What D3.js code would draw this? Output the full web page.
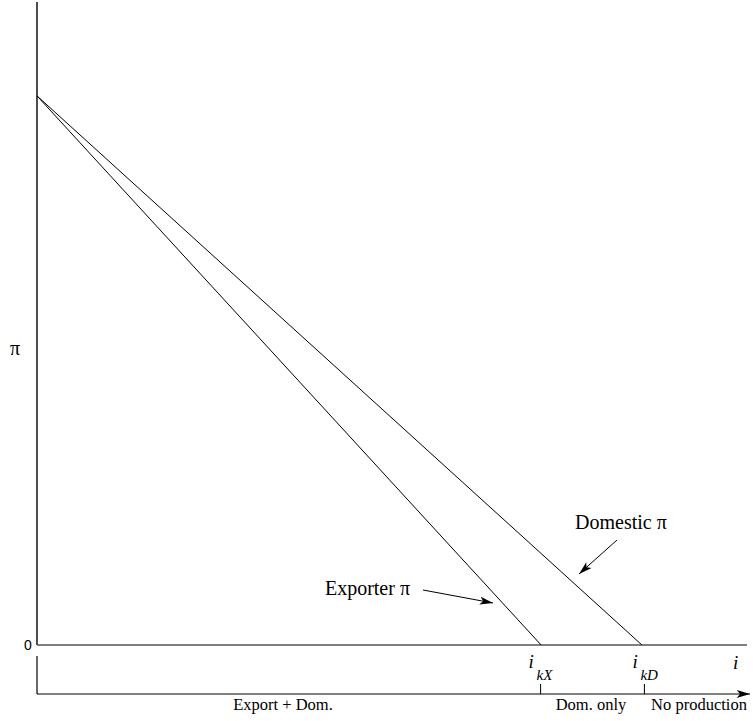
<!DOCTYPE html>
<html lang="en">
<head>
<meta charset="UTF-8">
<title>Exporter vs domestic profit</title>
<script src="https://cdnjs.cloudflare.com/ajax/libs/d3/7.8.5/d3.min.js"></script>
<style>
    body { margin: 0; background: #fff; }
    text { font-family: "Liberation Serif", "Times New Roman", serif; fill: #000; }
</style>
</head>
<body>
<div id="chart"></div>
<script>
    // profit lines: intercept at i = 0, zero at the cutoff
    const seriesNames = ["Exporter", "Domestic"];
    const interceptPi = [85.4, 85.4];
    const cutoffI = [71, 85.2];
    const cutoffLabels = ["kX", "kD"];
    const regionLabels = ["Export + Dom.", "Dom. only", "No production"];

    const width = 753, height = 721;
    const svg = d3.select("#chart").append("svg")
        .attr("width", width).attr("height", height);

    const x = d3.scaleLinear().domain([0, 100]).range([37, 747]);
    const y = d3.scaleLinear().domain([0, 100]).range([645, 2]);

    svg.append("defs").append("marker")
        .attr("id", "head")
        .attr("viewBox", "0 0 10 6")
        .attr("refX", 10).attr("refY", 3)
        .attr("markerWidth", 14).attr("markerHeight", 8)
        .attr("markerUnits", "userSpaceOnUse")
        .attr("orient", "auto")
        .append("path").attr("d", "M0,0 L10,3 L0,6 L2.5,3 Z").attr("fill", "#000");

    // axes
    svg.append("line")
        .attr("x1", x(0)).attr("x2", x(0)).attr("y1", y(100)).attr("y2", y(0))
        .attr("stroke", "#000").attr("stroke-width", 1.4);
    svg.append("line")
        .attr("x1", x(0)).attr("x2", x(100)).attr("y1", y(0)).attr("y2", y(0))
        .attr("stroke", "#555").attr("stroke-width", 1.4);

    svg.append("text").attr("x", 28).attr("y", y(0) + 5)
        .attr("text-anchor", "middle")
        .style("font-family", "'Liberation Sans', Arial, sans-serif")
        .style("font-size", "14px").text("0");
    svg.append("text").attr("x", 15).attr("y", 355)
        .attr("text-anchor", "middle").style("font-size", "20px").text("π");

    // profit lines
    seriesNames.forEach((n, k) => {
        svg.append("line")
            .attr("x1", x(0)).attr("y1", y(interceptPi[k]))
            .attr("x2", x(cutoffI[k])).attr("y2", y(0))
            .attr("stroke", "#000").attr("stroke-width", 1);
    });

    // line labels with arrows
    svg.append("text").attr("x", 410).attr("y", 595)
        .attr("text-anchor", "end")
        .style("font-size", "20px").text("Exporter π");
    svg.append("line")
        .attr("x1", 423).attr("y1", 590).attr("x2", 493).attr("y2", 603)
        .attr("stroke", "#000").attr("marker-end", "url(#head)");
    svg.append("text").attr("x", 575).attr("y", 529)
        .style("font-size", "20px").text("Domestic π");
    svg.append("line")
        .attr("x1", 617).attr("y1", 540).attr("x2", 579).attr("y2", 574)
        .attr("stroke", "#000").attr("marker-end", "url(#head)");

    // cutoff labels
    const tickX = [x(cutoffI[0]) - 0.5, x(cutoffI[1]) + 2.5];
    cutoffLabels.forEach((s, k) => {
        svg.append("text").attr("x", tickX[k] - 12).attr("y", 668)
            .style("font-size", "19px").style("font-style", "italic").text("i");
        svg.append("text").attr("x", tickX[k] - 4).attr("y", 680)
            .style("font-size", "15px").style("font-style", "italic").text(s);
    });
    svg.append("text").attr("x", 733).attr("y", 669)
        .style("font-size", "19px").style("font-style", "italic").text("i");

    // lower region axis
    svg.append("line")
        .attr("x1", x(0)).attr("x2", x(0)).attr("y1", 656).attr("y2", 694)
        .attr("stroke", "#000").attr("stroke-width", 1.2);
    svg.append("line")
        .attr("x1", x(0)).attr("x2", 750).attr("y1", 694).attr("y2", 694)
        .attr("stroke", "#000").attr("stroke-width", 1.2)
        .attr("marker-end", "url(#head)");
    tickX.forEach(tx => {
        svg.append("line")
            .attr("x1", tx).attr("x2", tx).attr("y1", 684).attr("y2", 694)
            .attr("stroke", "#000").attr("stroke-width", 1);
    });
    const regionX = [283, 591, 699];
    regionLabels.forEach((s, k) => {
        svg.append("text").attr("x", regionX[k]).attr("y", 710)
            .attr("text-anchor", "middle").style("font-size", "16.5px").text(s);
    });
</script>
</body>
</html>
